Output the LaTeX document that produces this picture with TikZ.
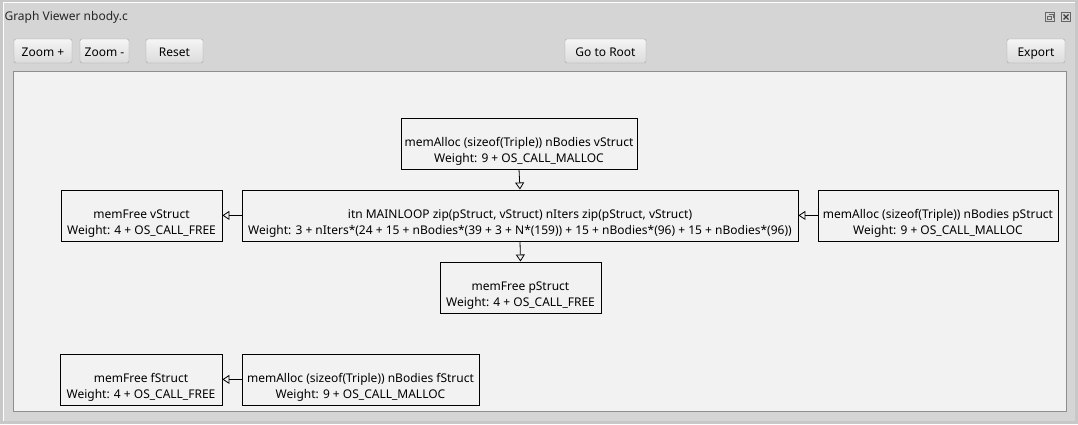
\documentclass[tikz,border=0pt]{standalone}
\usepackage{fontspec}
\setmainfont{Noto Sans}
\usetikzlibrary{arrows.meta}
\definecolor{winbg}{HTML}{D5D5D5}
\definecolor{canvasbg}{HTML}{F2F2F2}
\definecolor{canvasedge}{HTML}{8E8E8E}
\definecolor{btnedge}{HTML}{A2A2A2}
\tikzset{
  op/.style={draw,line width=0.8pt,inner sep=0pt,align=center,text height=45pt,text depth=6pt,font=\fontsize{12}{16}\selectfont},
  btn/.style={draw=btnedge,rounded corners=2pt,top color=white!96!black,bottom color=white!86!black,minimum height=24pt,inner sep=0pt,text height=11pt,text depth=1pt,font=\fontsize{12}{14}\selectfont},
  flow/.style={-{Triangle[open,length=7pt,width=9pt]},line width=0.8pt}
}
\begin{document}
\begin{tikzpicture}[x=1pt,y=-1pt]
\useasboundingbox (0,0) rectangle (1078,424);
% window
\fill[winbg!94!black] (0,0) rectangle (1078,424);
\fill[winbg] (3,3) rectangle (1075,421);
\draw[white,line width=1pt] (3.5,421) -- (3.5,2.5) -- (1075,2.5);
\node[anchor=west,font=\fontsize{12}{14}\selectfont,text=black!85] (title) at (1,17) {Graph Viewer nbody.c};
\draw[black!60,line width=0.7pt] (1045.5,12.5) rectangle (1054.5,21.5) (1047.5,16.5) rectangle (1051.5,19.5) (1049,14.5) -- (1053,14.5) -- (1053,18);
\draw[black!60,line width=0.7pt] (1061.5,12.5) rectangle (1070.5,21.5);
\draw[black!75,line width=1.2pt] (1063.5,14.5) -- (1068.5,19.5) (1063.5,19.5) -- (1068.5,14.5);
% buttons
\node[btn,minimum width=58pt] (zin) at (43,51) {Zoom +};
\node[btn,minimum width=49pt] (zout) at (104.5,51) {Zoom -};
\node[btn,minimum width=57pt] (reset) at (174.5,51) {Reset};
\node[btn,minimum width=81pt] (root) at (605.5,51) {Go to Root};
\node[btn,minimum width=58pt] (export) at (1036,51) {Export};
% canvas
\draw[canvasedge,fill=canvasbg,line width=1pt] (13.5,71.5) rectangle (1066.5,411.5);
% graph
\node[op,minimum width=236pt] (vAlloc) at (519,117.5) [anchor=north] {memAlloc (sizeof(Triple)) nBodies vStruct\\Weight: 9 + OS\_CALL\_MALLOC};
\node[op,minimum width=556pt] (mainLoop) at (520,189.5) [anchor=north] {itn MAINLOOP zip(pStruct, vStruct) nIters zip(pStruct, vStruct)\\Weight: 3 + nIters*(24 + 15 + nBodies*(39 + 3 + N*(159)) + 15 + nBodies*(96) + 15 + nBodies*(96))};
\node[op,minimum width=161pt] (vFree) at (141.5,189.5) [anchor=north] {memFree vStruct\\Weight: 4 + OS\_CALL\_FREE};
\node[op,minimum width=240pt] (pAlloc) at (938,189.5) [anchor=north] {memAlloc (sizeof(Triple)) nBodies pStruct\\Weight: 9 + OS\_CALL\_MALLOC};
\node[op,minimum width=161pt] (pFree) at (520.5,261.5) [anchor=north] {memFree pStruct\\Weight: 4 + OS\_CALL\_FREE};
\node[op,minimum width=162pt] (fFree) at (141,353.5) [anchor=north] {memFree fStruct\\Weight: 4 + OS\_CALL\_FREE};
\node[op,minimum width=237pt] (fAlloc) at (360.5,353.5) [anchor=north] {memAlloc (sizeof(Triple)) nBodies fStruct\\Weight: 9 + OS\_CALL\_MALLOC};
\draw[flow] (vAlloc.south) -- (mainLoop.north);
\draw[flow] (mainLoop.west) -- (vFree.east);
\draw[flow] (pAlloc.west) -- (mainLoop.east);
\draw[flow] (mainLoop.south) -- (pFree.north);
\draw[flow] (fAlloc.west) -- (fFree.east);
\end{tikzpicture}
\end{document}
